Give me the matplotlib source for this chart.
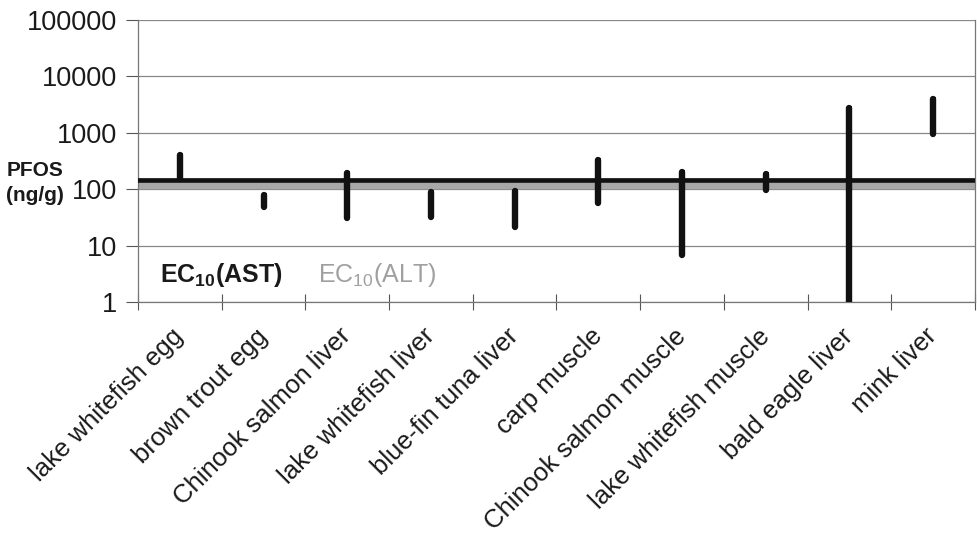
import numpy as np
import matplotlib
matplotlib.use("Agg")
from matplotlib import pyplot as plt
from matplotlib.transforms import ScaledTranslation

plt.rcParams['font.family'] = ['Liberation Sans', 'DejaVu Sans']
plt.rcParams['mathtext.fontset'] = 'custom'
plt.rcParams['mathtext.rm'] = 'Liberation Sans'
plt.rcParams['mathtext.bf'] = 'Liberation Sans:bold'

# tissues and PFOS ranges (ng/g)
tissues = ['lake whitefish egg', 'brown trout egg', 'Chinook salmon liver',
           'lake whitefish liver', 'blue-fin tuna liver', 'carp muscle',
           'Chinook salmon muscle', 'lake whitefish muscle', 'bald eagle liver',
           'mink liver']
pfos_low = [150, 48, 31, 32, 21, 57, 6.8, 97, 1.0, 950]
pfos_high = [400, 80, 190, 88, 93, 330, 200, 187, 2750, 4000]

ec10_ast = 146
ec10_alt = 116

fig = plt.figure(figsize=(9.77, 5.38), dpi=100)
ax = fig.add_axes([0.1412, 0.4387, 0.8568, 0.5241])

x = np.arange(len(tissues))

ax.axhline(ec10_alt, color='#a8a8a8', lw=4.6, zorder=2)
ax.axhline(ec10_ast, color='#111111', lw=3.4, zorder=3)
ax.vlines(x, pfos_low, pfos_high, color='#111111', lw=4.6, capstyle='round', zorder=4)
# small "close" nub at the top of each range
ax.plot(x, pfos_high, ls='none', marker=1, ms=2.5, mew=3, color='#111111', zorder=4)

ax.set_yscale('log')
ax.set_ylim(1, 100000)
ax.set_xlim(-0.5, len(tissues) - 0.5)
ax.set_yticks([1, 10, 100, 1000, 10000, 100000])
ax.set_yticklabels(['1', '10', '100', '1000', '10000', '100000'])
ax.minorticks_off()
ax.yaxis.grid(True, color='#888888', lw=0.9)
ax.set_axisbelow(True)

ax.set_xticks(np.arange(len(tissues) + 1) - 0.5, minor=False)
ax.set_xticklabels([])
ax.set_xticks(x, minor=True)
ax.set_xticklabels(tissues, minor=True, rotation=45, ha='right', va='center',
                   rotation_mode='anchor', fontsize=18.5, color='#1a1a1a')
shift = ScaledTranslation(-5 / 100, 0, fig.dpi_scale_trans)
for lab in ax.get_xticklabels(minor=True):
    lab.set_transform(lab.get_transform() + shift)
ax.tick_params(axis='x', which='minor', length=0, pad=22)
ax.tick_params(axis='x', which='major', direction='inout', length=12, color='#555555')
ax.tick_params(axis='y', direction='out', length=9, color='#555555', labelsize=19.5,
               labelcolor='#1a1a1a', pad=6)

ax.spines['top'].set_visible(False)
for side in ['left', 'right', 'bottom']:
    ax.spines[side].set_color('#777777')
    ax.spines[side].set_linewidth(0.9)

fig.text(0.036, 0.66, 'PFOS\n(ng/g)', fontsize=15, fontweight='bold', ha='center',
         va='center', color='#1a1a1a', linespacing=1.4)

ax.text(0.026, 0.095, r'EC$_\mathbf{10}$(AST)', transform=ax.transAxes, fontsize=18,
        fontweight='bold', color='#1a1a1a', va='center')
ax.text(0.215, 0.095, r'EC$_{10}$(ALT)', transform=ax.transAxes, fontsize=18,
        color='#a0a0a0', va='center')

fig.savefig('out.png', dpi=100)
